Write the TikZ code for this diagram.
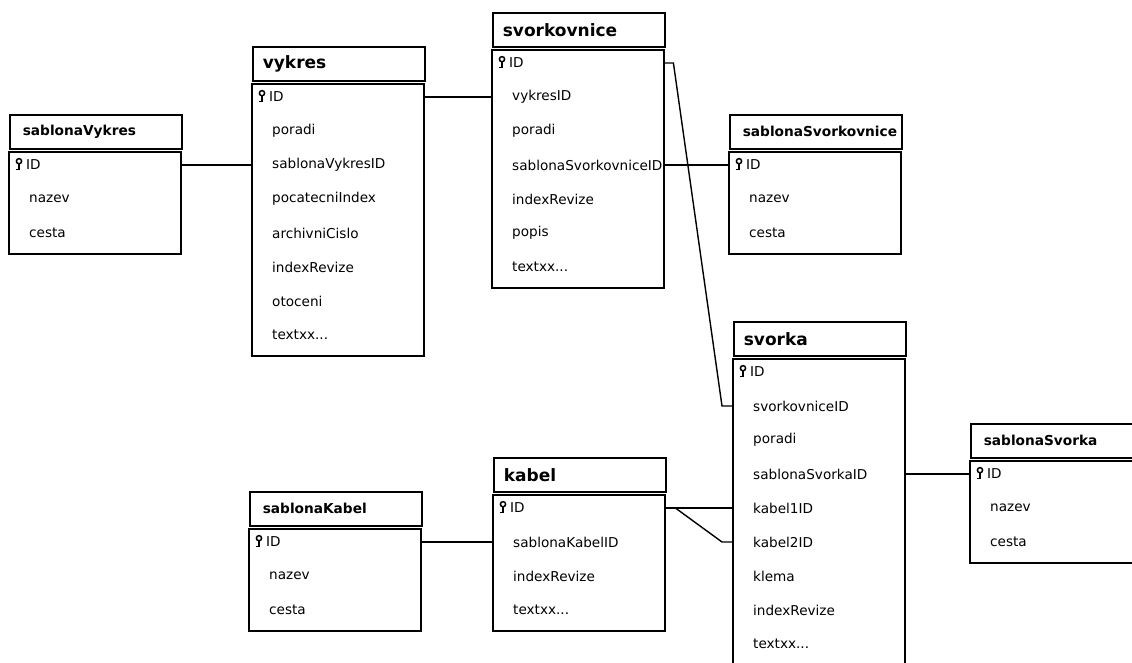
\documentclass[tikz,border=0pt]{standalone}
\usepackage{fontspec}
\setmainfont{DejaVu Sans}
\usepackage{tikz}
\usetikzlibrary{calc}
\newcommand{\fieldfont}{\fontsize{13.6}{16}\selectfont}
\newcommand{\bigtitlefont}{\fontsize{17}{20}\selectfont\bfseries}
\newcommand{\smalltitlefont}{\fontsize{13.7}{16}\selectfont\bfseries}
\newcommand{\textmore}{textxx...}
\tikzset{
  box/.style={draw=black, line width=1.6pt},
  hdrbase/.style={box, minimum width=172pt, minimum height=34pt, inner sep=0pt,
    text width=172pt, align=left},
  hdr/.style={hdrbase, font=\smalltitlefont, execute at begin node={\hspace*{13pt}}},
  hdrbig/.style={hdrbase, font=\bigtitlefont, execute at begin node={\hspace*{10pt}}},
  rowbase/.style={minimum height=20pt, inner sep=0pt, text width=172pt, align=left,
    font=\fieldfont},
  row/.style={rowbase, execute at begin node={\hspace*{20pt}}},
  idrow/.style={rowbase, execute at begin node={\hspace*{17pt}}},
  keyicon/.style={draw=black, line width=1.5pt},
  rel/.style={draw=black, line width=1.4pt}
}
% #1 table name, #2 x, #3 y (top left of the title), #4 title style, #5 fields after ID
\newcommand{\dbtable}[5]{%
  \node[#4, anchor=north west] (#1) at (#2,#3) {#1};
  \node[idrow, anchor=west] (#1-1) at (#2,#3+51) {ID};
  \draw[keyicon] (#2+10,#3+47.2) circle[radius=2.6];
  \draw[keyicon] (#2+10,#3+49.8) -- (#2+10,#3+55.5) -- (#2+7,#3+55.5);
  \foreach \f [count=\i from 2] in {#5} {
    \node[row, anchor=west] (#1-\i) at ({#2},{#3+51+34*(\i-1)}) {\f};
    \xdef\nrows{\i}
  }
  \draw[box] (#2,#3+38) rectangle ++(172,34*\nrows);
}

\begin{document}
\begin{tikzpicture}[x=1pt, y=-1pt]
  \path[use as bounding box, fill=white] (0,0) rectangle (1132,662);
  \clip (0,0) rectangle (1132,662);

  \dbtable{sablonaVykres}{9}{114}{hdr}{nazev,cesta}
  \dbtable{vykres}{252}{46}{hdrbig}{poradi,sablonaVykresID,pocatecniIndex,archivniCislo,indexRevize,otoceni,\textmore}
  \dbtable{svorkovnice}{492}{12}{hdrbig}{vykresID,poradi,sablonaSvorkovniceID,indexRevize,popis,\textmore}
  \dbtable{sablonaSvorkovnice}{729}{114}{hdr}{nazev,cesta}
  \dbtable{svorka}{733}{321}{hdrbig}{svorkovniceID,poradi,sablonaSvorkaID,kabel1ID,kabel2ID,klema,indexRevize,\textmore}
  \dbtable{sablonaSvorka}{970}{423}{hdr}{nazev,cesta}
  \dbtable{sablonaKabel}{249}{491}{hdr}{nazev,cesta}
  \dbtable{kabel}{493}{457}{hdrbig}{sablonaKabelID,indexRevize,\textmore}

  % relations
  \draw[rel] (sablonaVykres-1.east) -- (vykres-3.west);
  \draw[rel] (vykres-1.east) -- (svorkovnice-2.west);
  \draw[rel] (svorkovnice-4.east) -- (sablonaSvorkovnice-1.west);
  \draw[rel] (svorkovnice-1.east) -- ++(9,0) -- ($(svorka-2.west)+(-11,0)$) -- (svorka-2.west);
  \draw[rel] (svorka-4.east) -- (sablonaSvorka-1.west);
  \draw[rel] (kabel-1.east) -- (svorka-5.west);
  \draw[rel] (kabel-1.east) -- ++(10,0) -- ($(svorka-6.west)+(-11,0)$) -- (svorka-6.west);
  \draw[rel] (sablonaKabel-1.east) -- (kabel-2.west);
\end{tikzpicture}
\end{document}
